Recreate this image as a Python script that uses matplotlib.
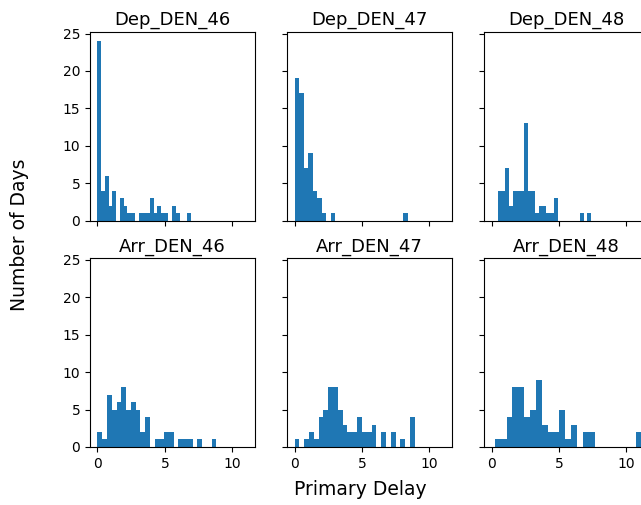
import numpy as np
import matplotlib
matplotlib.use('Agg')
import matplotlib.pyplot as plt

# panel titles (row by row)
titles = ['Dep_DEN_46', 'Dep_DEN_47', 'Dep_DEN_48',
          'Arr_DEN_46', 'Arr_DEN_47', 'Arr_DEN_48']

# data range (min, max primary delay) of each panel, 25 bins each
ranges = [(0.0, 6.93), (0.0, 8.4), (0.45, 7.4),
          (0.0, 8.83), (0.0, 8.93), (0.25, 11.13)]

# counts per bin
dep_46 = [24, 4, 6, 2, 4, 0, 3, 2, 1, 1, 0, 1, 1, 1, 3, 1, 2, 1, 1, 0, 2, 1, 0, 0, 1]
dep_47 = [19, 17, 7, 9, 4, 3, 1, 0, 1, 0, 0, 0, 0, 0, 0, 0, 0, 0, 0, 0, 0, 0, 0, 0, 1]
dep_48 = [4, 4, 7, 2, 4, 4, 4, 13, 4, 4, 1, 2, 2, 1, 1, 3, 0, 0, 0, 0, 0, 0, 1, 0, 1]
arr_46 = [2, 1, 7, 5, 6, 8, 5, 6, 5, 2, 4, 0, 1, 1, 2, 2, 0, 1, 1, 1, 0, 1, 0, 0, 1]
arr_47 = [1, 0, 1, 2, 1, 4, 5, 8, 8, 5, 3, 2, 2, 4, 2, 2, 3, 0, 2, 0, 2, 0, 1, 0, 4]
arr_48 = [1, 1, 4, 8, 8, 4, 5, 9, 3, 2, 2, 5, 1, 3, 0, 2, 2, 0, 0, 0, 0, 0, 0, 0, 2]
counts = [dep_46, dep_47, dep_48, arr_46, arr_47, arr_48]

fig, axes = plt.subplots(2, 3, figsize=(6.41, 5.05), dpi=100, sharex=True, sharey=True)
# the right column runs slightly past the figure edge, as in the original crop
fig.subplots_adjust(left=0.1404, right=1.0125, top=0.9366, bottom=0.1149,
                    wspace=0.194, hspace=0.2)

for ax, title, (lo, hi), c in zip(axes.flat, titles, ranges, counts):
    edges = np.linspace(lo, hi, len(c) + 1)
    ax.hist(edges[:-1], bins=edges, weights=c, color='#1f77b4')
    ax.set_title(title, fontsize=13, pad=5)
    ax.tick_params(labelsize=10)

axes[0, 0].set_xticks([0, 5, 10])
axes[0, 0].set_yticks([0, 5, 10, 15, 20, 25])

fig.text(0.031, 0.535, 'Number of Days', rotation=90, fontsize=13.5,
         ha='center', va='center')
fig.text(0.562, 0.030, 'Primary Delay', fontsize=13.5, ha='center', va='center')

fig.savefig('out.png', dpi=100)
